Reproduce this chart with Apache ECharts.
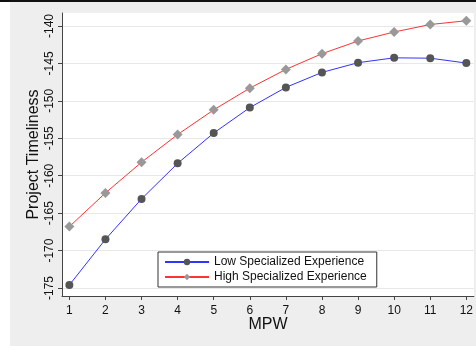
<!DOCTYPE html>
<html>
<head>
<meta charset="utf-8">
<script src="https://cdn.jsdelivr.net/npm/echarts@6/dist/echarts.min.js"></script>
<style>
html,body{margin:0;padding:0;background:#fff;}
#c{width:476px;height:346px;}
</style>
</head>
<body>
<div id="c"></div>
<script>
var mpw = [1,2,3,4,5,6,7,8,9,10,11,12];
var lowExp = [-174.6,-168.5,-163.1,-158.35,-154.3,-150.9,-148.2,-146.2,-144.9,-144.25,-144.3,-144.95];
var highExp = [-166.8,-162.3,-158.2,-154.5,-151.2,-148.3,-145.8,-143.7,-142.0,-140.8,-139.8,-139.3];
var yTicks = [-175,-170,-165,-160,-155,-150,-145,-140];
var seriesNames = ['Low Specialized Experience','High Specialized Experience'];

var font = '"Liberation Sans", Arial, sans-serif';
var chart = echarts.init(document.getElementById('c'), null, {renderer:'canvas'});
chart.setOption({
  animation:false,
  backgroundColor:'#ffffff',
  textStyle:{fontFamily:font},
  graphic:[
    {type:'rect', z:-10, shape:{x:10,y:2,width:466,height:344}, style:{fill:'#eeeeee'}, silent:true},
    {type:'rect', z:-10, shape:{x:0,y:0,width:476,height:2}, style:{fill:'#111111'}, silent:true}
  ],
  grid:{left:62, right:0, top:13, bottom:50, show:true, backgroundColor:'#ffffff', borderWidth:0, containLabel:false},
  legend:{
    orient:'vertical', left:158, top:252, width:221,
    backgroundColor:'#ffffff', borderColor:'#333333', borderWidth:1,
    padding:[4,10,4,6], itemGap:3, itemWidth:44, itemHeight:8,
    textStyle:{fontSize:12, color:'#111', fontFamily:font},
    data:seriesNames
  },
  xAxis:{
    type:'value', min:0.796, max:12.21,
    name:'MPW', nameLocation:'middle', nameGap:21, nameMoveOverlap:false,
    nameTextStyle:{fontSize:16, color:'#111', fontFamily:font},
    axisLine:{show:true, lineStyle:{color:'#444', width:1}},
    axisTick:{show:true, length:4, lineStyle:{color:'#444'}, customValues:mpw},
    axisLabel:{fontSize:12, color:'#111', margin:9, customValues:mpw, fontFamily:font},
    splitLine:{show:false}
  },
  yAxis:{
    type:'value', min:-176.069, max:-138.263,
    name:'Project Timeliness', nameLocation:'middle', nameGap:20, nameMoveOverlap:false,
    nameTextStyle:{fontSize:16, color:'#111', fontFamily:font},
    axisLine:{show:true, lineStyle:{color:'#444', width:1}},
    axisTick:{show:true, length:4, lineStyle:{color:'#444'}, customValues:yTicks},
    axisLabel:{fontSize:12, color:'#111', margin:6, rotate:90, customValues:yTicks, fontFamily:font},
    splitLine:{show:true, lineStyle:{color:'#e8e8e8', width:1}}
  },
  series:[
    {name:seriesNames[0], type:'line', data:mpw.map(function(x,i){return [x, lowExp[i]];}),
     symbol:'circle', symbolSize:8, lineStyle:{color:'#3333ff', width:1},
     itemStyle:{color:'#555555'}, color:'#3333ff'},
    {name:seriesNames[1], type:'line', data:mpw.map(function(x,i){return [x, highExp[i]];}),
     symbol:'diamond', symbolSize:10, lineStyle:{color:'#ff3333', width:1},
     itemStyle:{color:'#999999'}, color:'#ff3333'}
  ]
});
</script>
</body>
</html>
